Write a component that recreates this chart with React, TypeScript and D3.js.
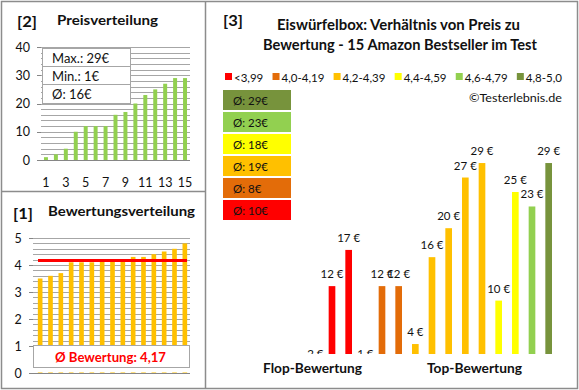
import React from 'react';
import * as d3 from 'd3';

// ---- data ----
const priceRank = d3.range(1, 16);
const priceValues = [1, 2, 4, 10, 12, 12, 12, 16, 17, 20, 23, 25, 27, 29, 29];
const priceTicks = [0, 10, 20, 30, 40];
const priceXLabels = [1, 3, 5, 7, 9, 11, 13, 15];
const priceStats = ['Max.: 29€', 'Min.: 1€', 'Ø: 16€'];

const ratingValues = [3.5, 3.6, 3.7, 4.1, 4.1, 4.1, 4.2, 4.2, 4.2, 4.3, 4.3, 4.4, 4.5, 4.6, 4.8];
const ratingTicks = [0, 1, 2, 3, 4, 5];
const ratingAvg = 4.17;
const ratingAvgLabel = 'Ø Bewertung: 4,17';

const groups = ['<3,99', '4,0-4,19', '4,2-4,39', '4,4-4,59', '4,6-4,79', '4,8-5,0'];
const groupColors = ['#FF0000', '#E36C09', '#FFC000', '#FFFF00', '#92D050', '#77933C'];
const groupAvgLabels = ['Ø: 10€', 'Ø: 8€', 'Ø: 19€', 'Ø: 18€', 'Ø: 23€', 'Ø: 29€'];
const productPrices = [2, 12, 17, 1, 12, 12, 4, 16, 20, 27, 29, 10, 25, 23, 29];
const productGroup = [0, 0, 0, 1, 1, 1, 2, 2, 2, 2, 2, 3, 3, 4, 5];

const FONT = 'Lato, "Open Sans", sans-serif';
const GRID = '#a6a6a6';
const AXIS = '#868686';
const BORDER = '#8c8c8c';
const INK = '#111';

function measure(text: string, font: string) {
  const c = document.createElement('canvas').getContext('2d');
  if (!c) return text.length * 6;
  c.font = font;
  return c.measureText(text).width;
}

export default function App() {
  // top-left: price distribution
  const pY = d3.scaleLinear().domain([0, 40]).range([160, 47]);
  const pX = d3.scaleBand<number>().domain(priceRank).range([41, 190]).paddingInner(0.6).paddingOuter(0.3);
  const pGrid = d3.range(0, 41, 2);

  // bottom-left: rating distribution
  const rY = d3.scaleLinear().domain([0, 5]).range([373, 238]);
  const rX = d3.scaleBand<number>().domain(priceRank).range([35, 190]).paddingInner(0.55).paddingOuter(0.275);
  const rGrid = d3.range(0, 26).map((i) => i * 0.2);

  // right: price by rating (plot area bottom at y=354, axis starts above zero)
  const plotBottom = 354;
  const mY = d3.scaleLinear().domain([0, 30]).range([373, 373 - 30 * 7.24]);
  const axisMin = mY.invert(plotBottom);
  const mX = d3.scaleBand<number>().domain(priceRank).range([307, 557]).paddingInner(0.6).paddingOuter(0.3);

  // legend layout, spread from x=225 to x=562
  const legFont = `11.5px ${FONT}`;
  const widths = groups.map((g) => measure(g, legFont));
  const used = widths.reduce((a, w) => a + w + 9, 0);
  const gap = (562 - 225 - used) / (groups.length - 1);
  let lx = 225;
  const legendItems = groups.map((g, i) => {
    const item = { g, color: groupColors[i], x: lx };
    lx += 9 + widths[i] + gap;
    return item;
  });

  return (
    <svg width={579} height={390} style={{ position: 'absolute', left: 0, top: 0, background: '#fff' }} fontFamily={FONT}>
      <defs>
        <clipPath id="mainClip">
          <rect x={206} y={0} width={370} height={plotBottom} />
        </clipPath>
      </defs>
      <rect x={0} y={0} width={579} height={390} fill="#fff" />

      {/* ===== Panel [2] ===== */}
      <text x={17} y={27} fontSize={15} fontWeight="bold" fill={INK} textLength={20} lengthAdjust="spacingAndGlyphs">[2]</text>
      <text x={57} y={25} fontSize={13.5} fontWeight="bold" fill={INK} textLength={101} lengthAdjust="spacingAndGlyphs">Preisverteilung</text>
      {pGrid.map((v) => (
        <line key={v} x1={41} x2={190} y1={Math.round(pY(v)) + 0.5} y2={Math.round(pY(v)) + 0.5} stroke={v === 0 ? AXIS : GRID} strokeWidth={1} />
      ))}
      {priceTicks.map((v) => (
        <g key={v}>
          <line x1={37} x2={41} y1={Math.round(pY(v)) + 0.5} y2={Math.round(pY(v)) + 0.5} stroke={AXIS} />
          <text x={30} y={pY(v) + 4.5} fontSize={12.5} textAnchor="end" fill={INK}>{v}</text>
        </g>
      ))}
      {priceValues.map((v, i) => (
        <rect key={i} x={pX(i + 1)} y={pY(v)} width={pX.bandwidth()} height={pY(0) - pY(v)} fill="#92D050" />
      ))}
      {priceXLabels.map((v) => (
        <text key={v} x={(pX(v) ?? 0) + pX.bandwidth() / 2} y={186.5} fontSize={12.5} textAnchor="middle" fill={INK}>{v}</text>
      ))}
      <rect x={42.5} y={48.5} width={88} height={55} fill="#fff" stroke={GRID} />
      <line x1={42.5} x2={130.5} y1={66.5} y2={66.5} stroke={GRID} />
      <line x1={42.5} x2={130.5} y1={84.5} y2={84.5} stroke={GRID} />
      {priceStats.map((s, i) => (
        <text key={s} x={52} y={62.5 + i * 18} fontSize={13} fill={INK}>{s}</text>
      ))}

      {/* ===== Panel [1] ===== */}
      <text x={13} y={219} fontSize={15} fontWeight="bold" fill={INK} textLength={20} lengthAdjust="spacingAndGlyphs">[1]</text>
      <text x={48} y={216} fontSize={13.5} fontWeight="bold" fill={INK} textLength={147} lengthAdjust="spacingAndGlyphs">Bewertungsverteilung</text>
      {rGrid.map((v, i) => (
        <line key={i} x1={33} x2={190} y1={Math.round(rY(v)) + 0.5} y2={Math.round(rY(v)) + 0.5} stroke={i === 0 ? AXIS : GRID} />
      ))}
      {ratingTicks.map((v) => (
        <g key={v}>
          <line x1={29} x2={33} y1={Math.round(rY(v)) + 0.5} y2={Math.round(rY(v)) + 0.5} stroke={AXIS} />
          <text x={18} y={rY(v) + 4.5} fontSize={12.5} textAnchor="middle" fill={INK}>{v}</text>
        </g>
      ))}
      {ratingValues.map((v, i) => (
        <rect key={i} x={rX(i + 1)} y={rY(v)} width={rX.bandwidth()} height={rY(0) - rY(v)} fill="#FFC000" />
      ))}
      <line x1={38} x2={187} y1={rY(ratingAvg)} y2={rY(ratingAvg)} stroke="#FF0000" strokeWidth={3} />
      <rect x={33} y={345} width={157.5} height={27.5} fill="#fff" />
      <rect x={33.5} y={345.5} width={156} height={22} fill="#fff" stroke={GRID} />
      <text x={110.5} y={361.5} fontSize={14} fontWeight="bold" fill="#FF0000" textAnchor="middle" textLength={111} lengthAdjust="spacingAndGlyphs">{ratingAvgLabel}</text>

      {/* ===== Panel [3] ===== */}
      <text x={223} y={26} fontSize={15} fontWeight="bold" fill={INK} textLength={20} lengthAdjust="spacingAndGlyphs">[3]</text>
      <text x={398.5} y={30} fontSize={14.5} fontWeight="bold" fill={INK} textAnchor="middle" textLength={243} lengthAdjust="spacingAndGlyphs">Eiswürfelbox: Verhältnis von Preis zu</text>
      <text x={400} y={50} fontSize={14.5} fontWeight="bold" fill={INK} textAnchor="middle" textLength={274} lengthAdjust="spacingAndGlyphs">Bewertung - 15 Amazon Bestseller im Test</text>
      {legendItems.map((it) => (
        <g key={it.g}>
          <rect x={it.x} y={73} width={7} height={7} fill={it.color} />
          <text x={it.x + 9} y={81.5} fontSize={11.5} fill={INK}>{it.g}</text>
        </g>
      ))}
      <text x={562} y={102} fontSize={12} fill={INK} textAnchor="end" textLength={93} lengthAdjust="spacingAndGlyphs">©Testerlebnis.de</text>
      {groupAvgLabels.slice().reverse().map((s, i) => {
        const gi = groupAvgLabels.length - 1 - i;
        return (
          <g key={s}>
            <rect x={223} y={90 + i * 22} width={68} height={20} fill={groupColors[gi]} />
            <text x={233} y={104.5 + i * 22} fontSize={11.5} fill={INK}>{s}</text>
          </g>
        );
      })}
      <g clipPath="url(#mainClip)">
        {productPrices.map((v, i) => {
          const x = mX(i + 1) ?? 0;
          const below = v < axisMin;
          const top = below ? plotBottom : mY(v);
          return (
            <g key={i}>
              <rect x={x} y={mY(v)} width={mX.bandwidth()} height={mY(0) - mY(v)} fill={groupColors[productGroup[i]]} />
              <text x={x + mX.bandwidth() / 2} y={below ? 357.5 : top - 8} fontSize={11.5} textAnchor="middle" fill={INK}>{`${v} €`}</text>
            </g>
          );
        })}
      </g>
      <text x={312.5} y={373} fontSize={13.5} fontWeight="bold" fill={INK} textAnchor="middle" textLength={99} lengthAdjust="spacingAndGlyphs">Flop-Bewertung</text>
      <text x={474.5} y={373} fontSize={13.5} fontWeight="bold" fill={INK} textAnchor="middle" textLength={95} lengthAdjust="spacingAndGlyphs">Top-Bewertung</text>

      {/* borders */}
      <rect x={1.5} y={1.5} width={576} height={387} fill="none" stroke={BORDER} strokeWidth={1.5} />
      <line x1={205.5} x2={205.5} y1={1} y2={389} stroke={BORDER} strokeWidth={1.5} />
      <line x1={1} x2={205} y1={191.5} y2={191.5} stroke={BORDER} strokeWidth={1.5} />
    </svg>
  );
}
